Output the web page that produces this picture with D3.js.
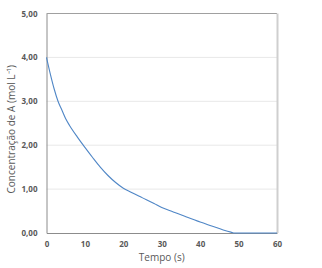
<!DOCTYPE html>
<html>
<head>
<meta charset="utf-8">
<script src="https://cdn.jsdelivr.net/npm/d3@7"></script>
<style>
  body { margin: 0; background: #fff; }
  svg { display: block; }
</style>
</head>
<body>
<script>
// tempo (s) e concentração (mol/L)
var tempo = [0, 1, 2, 3, 4, 5, 6, 8, 10, 12, 14, 16, 18, 20, 22, 25, 28, 30, 33, 36, 40, 43, 46, 48, 49, 50, 55, 60]
var conc = [4.00, 3.62, 3.28, 3.00, 2.80, 2.60, 2.45, 2.19, 1.95, 1.72, 1.50, 1.31, 1.15, 1.02, 0.93, 0.80, 0.67, 0.58, 0.48, 0.38, 0.25, 0.16, 0.07, 0.02, 0.00, 0.00, 0.00, 0.00]
var xTicks = [0, 10, 20, 30, 40, 50, 60]
var yTicks = [0, 1, 2, 3, 4, 5]

var width = 322
var height = 268
var margin = { left: 46.5, right: 45, top: 13.5, bottom: 35 }

var svg = d3.select("body").append("svg")
  .attr("width", width)
  .attr("height", height)

var x = d3.scaleLinear().domain([0, 60]).range([margin.left, width - margin.right])
var y = d3.scaleLinear().domain([0, 5]).range([height - margin.bottom, margin.top])

var fmt = function (d) { return d3.format(".2f")(d).replace(".", ",") }

// grid
svg.append("g").selectAll("line").data(yTicks.slice(1, -1)).enter()
  .append("line")
  .attr("x1", x(0)).attr("x2", x(60))
  .attr("y1", function (d) { return y(d) }).attr("y2", function (d) { return y(d) })
  .attr("stroke", "#e8e8e8").attr("stroke-width", 1)

// frame
svg.append("line").attr("x1", x(0)).attr("x2", x(60)).attr("y1", y(5)).attr("y2", y(5))
  .attr("stroke", "#a0a0a0")
svg.append("line").attr("x1", x(60) + 0.5).attr("x2", x(60) + 0.5).attr("y1", y(5)).attr("y2", y(0))
  .attr("stroke", "#cfcfcf").attr("stroke-width", 2)

var yAxis = svg.append("g")
  .attr("transform", "translate(" + x(0) + ",0)")
  .call(d3.axisLeft(y).tickValues(yTicks).tickFormat(fmt).tickSize(0).tickPadding(9))
var xAxis = svg.append("g")
  .attr("transform", "translate(0," + y(0) + ")")
  .call(d3.axisBottom(x).tickValues(xTicks).tickSize(0).tickPadding(8))

svg.selectAll(".domain").attr("stroke", "#8c8c8c")
svg.selectAll(".tick text")
  .attr("fill", "#595959")
  .style("font-family", "Open Sans, sans-serif")
  .style("font-size", "8px")
  .style("font-weight", "bold")

var line = d3.line()
  .x(function (d, i) { return x(tempo[i]) })
  .y(function (d) { return y(d) })
  .curve(d3.curveMonotoneX)

svg.append("path")
  .datum(conc)
  .attr("d", line)
  .attr("fill", "none")
  .attr("stroke", "#4f86c6")
  .attr("stroke-width", 1.1)

svg.append("text")
  .attr("x", x(30)).attr("y", 261)
  .attr("text-anchor", "middle")
  .attr("fill", "#595959")
  .style("font-family", "Open Sans, sans-serif")
  .style("font-size", "10px")
  .text("Tempo (s)")

svg.append("text")
  .attr("transform", "translate(15," + (y(2.5) + 6) + ") rotate(-90)")
  .attr("text-anchor", "middle")
  .attr("fill", "#595959")
  .style("font-family", "Open Sans, sans-serif")
  .style("font-size", "10px")
  .text("Concentração de A (mol L⁻¹)")
</script>
</body>
</html>
